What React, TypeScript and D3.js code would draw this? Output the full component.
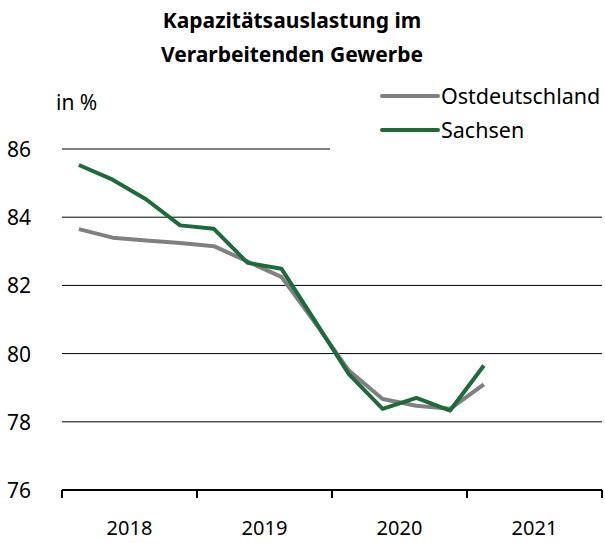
import React, { useEffect, useRef } from 'react';
import * as d3 from 'd3';

const years = ['2018', '2019', '2020', '2021'];
const quarters = ['2018Q1', '2018Q2', '2018Q3', '2018Q4', '2019Q1', '2019Q2', '2019Q3', '2019Q4', '2020Q1', '2020Q2', '2020Q3', '2020Q4', '2021Q1'];
const ostdeutschland = [83.65, 83.4, 83.32, 83.24, 83.15, 82.7, 82.25, 80.9, 79.5, 78.67, 78.47, 78.38, 79.1];
const sachsen = [85.53, 85.1, 84.52, 83.76, 83.66, 82.66, 82.49, 80.95, 79.4, 78.38, 78.7, 78.33, 79.65];
const yTicks = [76, 78, 80, 82, 84, 86];

const FONT = '"Source Sans Pro", "Noto Sans", sans-serif';
const GREEN = '#1d6b3b';
const GREY = '#808080';

export default function App() {
	const ref = useRef<SVGSVGElement>(null);

	useEffect(() => {
		const svg = d3.select(ref.current).style('font-family', FONT);
		svg.selectAll('*').remove();

		// quarter index on x, 4 per year
		const x = d3.scaleLinear().domain([0, 16]).range([62, 602]);
		const y = d3.scaleLinear().domain([76, 86]).range([490, 149]);

		// title
		svg.append('text').attr('x', 292).attr('y', 28).attr('text-anchor', 'middle')
			.style('font-size', '21px').style('font-weight', 'bold').text('Kapazitätsauslastung im');
		svg.append('text').attr('x', 292).attr('y', 62).attr('text-anchor', 'middle')
			.style('font-size', '21px').style('font-weight', 'bold').text('Verarbeitenden Gewerbe');
		svg.append('text').attr('x', 56).attr('y', 110).style('font-size', '21px').text('in %');

		// gridlines
		const grid = svg.append('g');
		yTicks.filter(d => d > 76).forEach(d => {
			grid.append('line')
				.attr('x1', x(0)).attr('x2', d === 86 ? x(8) - 2 : x(16))
				.attr('y1', y(d)).attr('y2', y(d))
				.attr('stroke', '#000').attr('stroke-width', 1);
		});

		// y labels
		svg.append('g').selectAll('text').data(yTicks).enter().append('text')
			.attr('x', 7).attr('y', d => y(d) + 8)
			.style('font-size', '21px').text(d => d);

		// x axis
		const axis = svg.append('g');
		axis.append('line').attr('x1', x(0)).attr('x2', x(16)).attr('y1', y(76)).attr('y2', y(76))
			.attr('stroke', '#000').attr('stroke-width', 2);
		d3.range(0, 17, 4).forEach(i => {
			axis.append('line').attr('x1', x(i)).attr('x2', x(i)).attr('y1', y(76)).attr('y2', y(76) + 8)
				.attr('stroke', '#000').attr('stroke-width', 2);
		});
		axis.selectAll('text').data(years).enter().append('text')
			.attr('x', (d, i) => x(i * 4 + 2)).attr('y', 535).attr('text-anchor', 'middle')
			.style('font-size', '20px').text(d => d);

		const line = d3.line<number>().x((d, i) => x(i + 0.5)).y(d => y(d));
		svg.append('path').datum(ostdeutschland).attr('d', line)
			.attr('fill', 'none').attr('stroke', GREY).attr('stroke-width', 4).attr('stroke-linejoin', 'round');
		svg.append('path').datum(sachsen).attr('d', line)
			.attr('fill', 'none').attr('stroke', GREEN).attr('stroke-width', 4).attr('stroke-linejoin', 'round');

		// legend
		const legend = [{ name: 'Ostdeutschland', color: GREY, y: 96 }, { name: 'Sachsen', color: GREEN, y: 130 }];
		legend.forEach(l => {
			svg.append('line').attr('x1', 382).attr('x2', 438).attr('y1', l.y).attr('y2', l.y)
				.attr('stroke', l.color).attr('stroke-width', 4).attr('stroke-linecap', 'round');
			svg.append('text').attr('x', 441).attr('y', l.y + 8).style('font-size', '21.5px').text(l.name);
		});
	}, []);

	return (
		<div>
			<svg ref={ref} width={605} height={543} style={{ position: 'absolute', left: 0, top: 0 }} />
		</div>
	);
}
